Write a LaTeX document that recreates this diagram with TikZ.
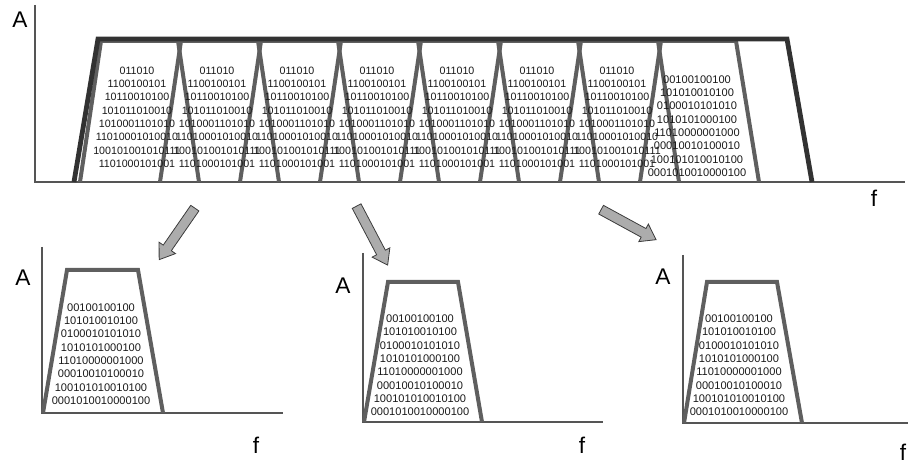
\documentclass[tikz,border=0pt]{standalone}
\usepackage{fontspec}
\setmainfont{Liberation Sans}
\usetikzlibrary{positioning, shapes.arrows}
\definecolor{axisgray}{RGB}{85,85,85}
\definecolor{bandgray}{RGB}{95,95,95}
\definecolor{banddark}{RGB}{50,50,50}
\definecolor{arrowfill}{RGB}{172,172,172}
\definecolor{arrowline}{RGB}{60,60,60}
\definecolor{bittext}{RGB}{25,25,25}
\newcommand{\bitsmixed}{011010\\1100100101\\10110010100\\101011010010\\1010001101010\\11010001010010\\100101001010111\\1101000101001}
\newcommand{\bitsone}{00100100100\\101010010100\\0100010101010\\1010101000100\\11010000001000\\00010010100010\\100101010010100\\0001010010000100}
\tikzset{
  axis/.style={draw=axisgray, line width=1pt},
  band/.style={draw=bandgray, line width=3pt},
  bandouter/.style={draw=banddark, line width=3.6pt},
  bits/.style={
    text=bittext, font=\fontsize{8}{10}\selectfont,
    align=center, inner sep=0pt
  },
  bitsbig/.style={bits, font=\fontsize{8.3}{10}\selectfont},
  axislabel/.style={font=\fontsize{17}{17}\selectfont, text=black, inner sep=0pt},
  flow/.style={
    single arrow, draw=arrowline, fill=arrowfill, line width=0.6pt,
    minimum width=14.5pt, single arrow head extend=3.8pt,
    single arrow tip angle=70, minimum height=47pt, inner sep=3.4pt,
    sloped, allow upside down
  }
}

\begin{document}
\begin{tikzpicture}[x=0.75pt, y=-0.75pt]
  \useasboundingbox (0,0) rectangle (908,463);

  % multiplexed spectrum
  \coordinate (o) at (35,182);
  \draw[axis] (35,5) -- (o) -- (905,182);
  \node[axislabel] (amp) at (20,20) {A};
  \node[axislabel] (freq) at (874,198) {f};
  \draw[band] (80,182) -- (101,41) -- (178,41) -- (199,182);
  \draw[band] (160,182) -- (181,41) -- (258,41) -- (279,182);
  \draw[band] (240,182) -- (261,41) -- (338,41) -- (359,182);
  \draw[band] (320,182) -- (341,41) -- (418,41) -- (439,182);
  \draw[band] (400,182) -- (421,41) -- (498,41) -- (519,182);
  \draw[band] (480,182) -- (501,41) -- (578,41) -- (599,182);
  \draw[band] (560,182) -- (581,41) -- (658,41) -- (679,182);
  \draw[band] (640,182) -- (661,41) -- (736,41) -- (759,182);
  \draw[bandouter] (74,182) -- (98,39) -- (787,39) -- (812,182);
  \node[bits] (ch1) at (137,117) {\bitsmixed};
  \node[bits] (ch2) at (217,117) {\bitsmixed};
  \node[bits] (ch3) at (297,117) {\bitsmixed};
  \node[bits] (ch4) at (377,117) {\bitsmixed};
  \node[bits] (ch5) at (457,117) {\bitsmixed};
  \node[bits] (ch6) at (537,117) {\bitsmixed};
  \node[bits] (ch7) at (617,117) {\bitsmixed};
  \node[bitsbig] (ch8) at (697,126) {\bitsone};

  % first single channel
  \draw[axis] (42,247) -- (42,413) -- (283,413);
  \node[axislabel] (ampa) at (23,278) {A};
  \node[axislabel] (freqa) at (256,445) {f};
  \draw[band] (43,413) -- (67,270) -- (138,270) -- (163,413);
  \node[bitsbig] (sa) at (101,354) {\bitsone};

  % second single channel
  \draw[axis] (363,253) -- (363,422) -- (603,422);
  \node[axislabel] (ampb) at (343,286) {A};
  \node[axislabel] (freqb) at (582,445) {f};
  \draw[band] (364,422) -- (388,282) -- (458,282) -- (482,422);
  \node[bitsbig] (sb) at (420,365.5) {\bitsone};

  % third single channel
  \draw[axis] (683,255) -- (683,423) -- (908,423);
  \node[axislabel] (ampc) at (663,277) {A};
  \node[axislabel] (freqc) at (903,452) {f};
  \draw[band] (684,423) -- (707,282) -- (777,282) -- (802,423);
  \node[bitsbig] (sc) at (739,365.5) {\bitsone};

  % arrows
  \coordinate (t1) at (197,205);
  \coordinate (h1) at (161,257);
  \coordinate (t2) at (355,203);
  \coordinate (h2) at (386,262);
  \coordinate (t3) at (598,208);
  \coordinate (h3) at (653,238);
  \path (t1) -- node[flow] (ar1) {} (h1);
  \path (t2) -- node[flow, minimum height=50pt] (ar2) {} (h2);
  \path (t3) -- node[flow] (ar3) {} (h3);
\end{tikzpicture}
\end{document}
